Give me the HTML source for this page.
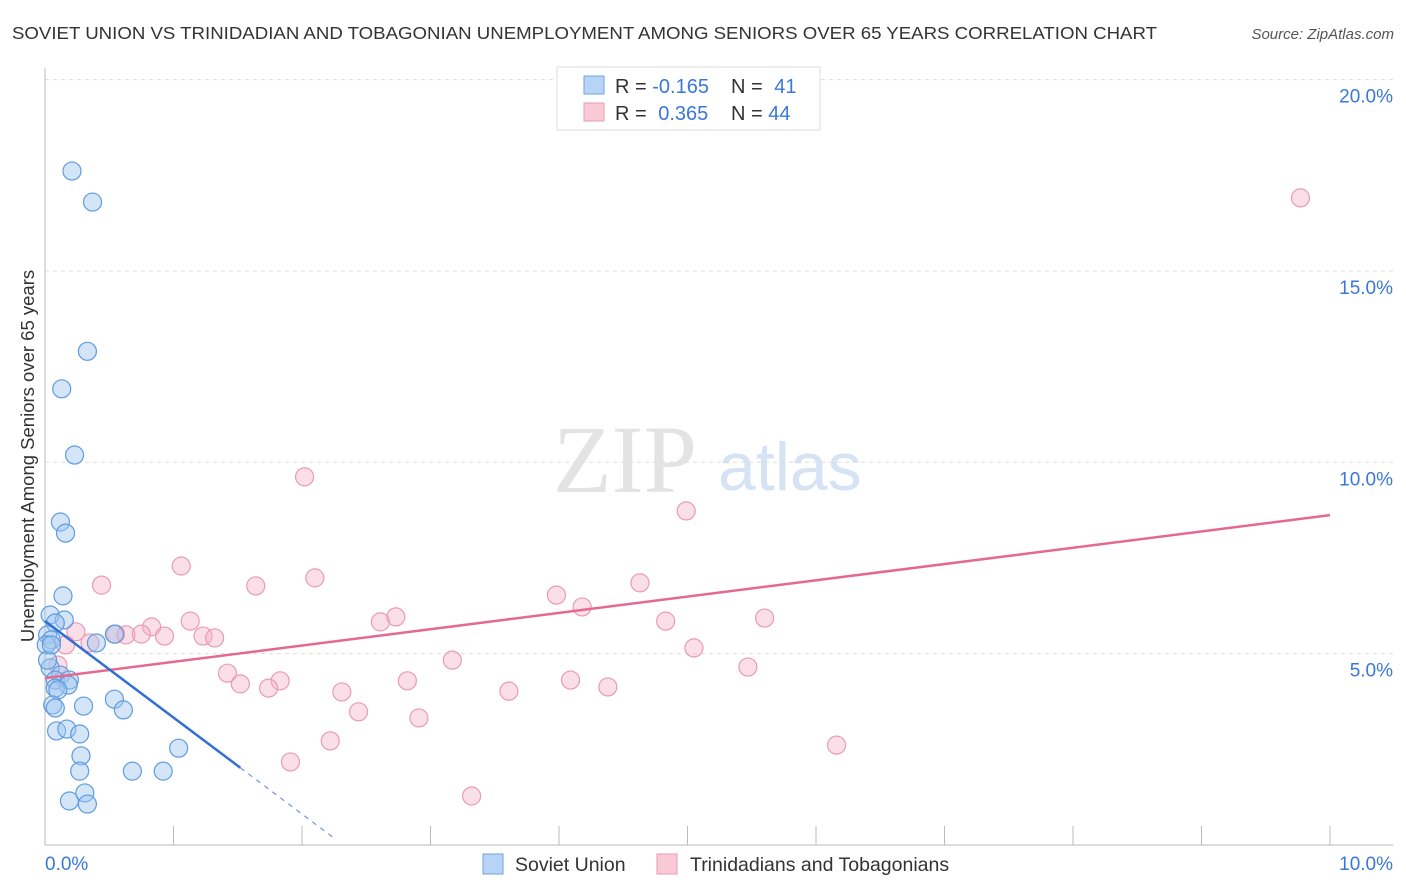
<!DOCTYPE html>
<html><head><meta charset="utf-8"><style>
body{margin:0;background:#fff;font-family:"Liberation Sans",sans-serif;}
svg{display:block}
</style></head><body>
<svg width="1406" height="892" viewBox="0 0 1406 892">
<text x="12" y="39" font-size="17.5" fill="#333" textLength="1145" lengthAdjust="spacingAndGlyphs">SOVIET UNION VS TRINIDADIAN AND TOBAGONIAN UNEMPLOYMENT AMONG SENIORS OVER 65 YEARS CORRELATION CHART</text>
<text x="1394" y="39" font-size="15" fill="#555" font-style="italic" text-anchor="end">Source: ZipAtlas.com</text>
<g>
<text x="553" y="492" font-size="96" fill="#e3e3e3" font-family="Liberation Serif,serif">ZIP</text>
<text x="718" y="490" font-size="68" fill="#d5e3f5">atlas</text>
</g>
<g id="grid"></g>
<g id="axes"></g>
<g id="pts"></g>
<g id="trends"></g>
<text transform="translate(34,456) rotate(-90)" font-size="18.5" fill="#333" text-anchor="middle">Unemployment Among Seniors over 65 years</text>
<g>
<rect x="557" y="67" width="263" height="63" fill="#fff" stroke="#ddd"/>
<rect x="584" y="76" width="20" height="18" fill="#b7d3f5" stroke="#6fa3e6"/>
<rect x="584" y="103" width="20" height="18" fill="#f9c9d8" stroke="#ec9ab5"/>
<text x="615" y="93" font-size="20" fill="#333">R = <tspan fill="#3a78d8">-0.165</tspan></text>
<text x="731" y="93" font-size="20" fill="#333">N = <tspan fill="#3a78d8" dx="6">41</tspan></text>
<text x="615" y="120" font-size="20" fill="#333">R = <tspan fill="#3a78d8" dx="6">0.365</tspan></text>
<text x="731" y="120" font-size="20" fill="#333">N = <tspan fill="#3a78d8">44</tspan></text>
</g>
<g>
<rect x="483" y="854" width="20" height="20" fill="#b7d3f5" stroke="#6fa3e6"/>
<text x="515" y="871" font-size="19.5" fill="#333">Soviet Union</text>
<rect x="657" y="854" width="20" height="20" fill="#f9c9d8" stroke="#ec9ab5"/>
<text x="690" y="871" font-size="19.5" fill="#333">Trinidadians and Tobagonians</text>
</g>
</svg>
<script>
const yTicks=[5,10,15,20];
const xTickLabels=["0.0%","10.0%"];
const sovietX=[0.21,0.37,0.33,0.13,0.23,0.12,0.16,0.14,0.04,0.15,0.08,0.02,0.05,0.01,0.54,0.40,0.04,0.12,0.08,0.19,0.18,0.08,0.10,0.06,0.08,0.30,0.54,0.61,0.09,0.17,0.27,0.28,1.04,0.27,0.68,0.92,0.19,0.31,0.33,0.02,0.05];
const sovietY=[17.61,16.80,12.90,11.92,10.19,8.44,8.15,6.51,6.01,5.88,5.80,5.49,5.36,5.23,5.51,5.28,4.63,4.44,4.31,4.31,4.18,4.10,4.05,3.66,3.58,3.63,3.81,3.53,2.98,3.03,2.90,2.33,2.53,1.93,1.93,1.93,1.15,1.36,1.07,4.83,5.23];
const trinX=[9.77,2.02,4.99,1.06,0.44,2.10,1.64,3.98,4.63,4.18,2.73,2.61,5.60,4.83,1.13,0.24,0.83,0.55,0.63,0.75,0.93,1.23,1.32,0.35,0.16,5.05,3.17,1.42,1.83,1.52,1.74,2.82,4.09,2.31,3.61,4.38,5.47,2.44,2.91,2.22,6.16,1.91,3.32,0.10];
const trinY=[16.91,9.62,8.73,7.29,6.79,6.98,6.77,6.53,6.85,6.22,5.96,5.83,5.93,5.85,5.85,5.57,5.70,5.51,5.49,5.51,5.46,5.46,5.41,5.28,5.23,5.15,4.83,4.49,4.29,4.21,4.10,4.29,4.31,4.00,4.02,4.13,4.65,3.48,3.32,2.72,2.61,2.17,1.28,4.70];
const sovietTrend=[5.85,-2.52,1.52,2.24]; // intercept, slope, solid end, dashed end
const trinTrend=[4.36,0.426,10];
const X=v=>45+v*128.5, Y=v=>845-v*38.27;
const NS="http://www.w3.org/2000/svg";
function mk(t,a,p){const e=document.createElementNS(NS,t);for(const k in a)e.setAttribute(k,a[k]);p.appendChild(e);return e;}
const grid=document.getElementById('grid'),axes=document.getElementById('axes'),pts=document.getElementById('pts'),tr=document.getElementById('trends');
yTicks.forEach(v=>{
 const l=mk('line',{x1:45,x2:1393,y1:Y(v),y2:Y(v),stroke:'#ddd','stroke-dasharray':'4,4'},grid);
 
 
 const t=mk('text',{x:1393,y:Y(v)+23,'font-size':19,fill:'#3a78d8','text-anchor':'end'},axes);
 t.textContent=v.toFixed(1)+'%';
 
 
});
mk('line',{x1:45,x2:45,y1:68,y2:845,stroke:'#bbb'},axes);
mk('line',{x1:45,x2:1393,y1:845,y2:845,stroke:'#bbb'},axes);
for(let i=0;i<=10;i++){const tk=mk('line',{x1:X(i),x2:X(i),y1:826,y2:845,stroke:'#bbb'},axes);
 
 }
const xl0=mk('text',{x:45,y:870,'font-size':19,fill:'#3a78d8'},axes);xl0.textContent=xTickLabels[0];


const xl1=mk('text',{x:1393,y:870,'font-size':19,fill:'#3a78d8','text-anchor':'end'},axes);xl1.textContent=xTickLabels[1];


trinX.forEach((x,i)=>{const c=mk('circle',{cx:X(x),cy:Y(trinY[i]),r:9,fill:'rgba(246,178,200,0.42)',stroke:'#ea9ab4','stroke-width':1.2},pts);
 
 });
sovietX.forEach((x,i)=>{const c=mk('circle',{cx:X(x),cy:Y(sovietY[i]),r:9,fill:'rgba(160,198,240,0.45)',stroke:'#5e9be0','stroke-width':1.2},pts);
 
 });
const f=(t,x)=>t[0]+t[1]*x;
const pl=mk('line',{x1:X(0),y1:Y(f(trinTrend,0)),x2:X(trinTrend[2]),y2:Y(f(trinTrend,trinTrend[2])),stroke:'#e5698f','stroke-width':2.5},tr);


const bl=mk('line',{x1:X(0),y1:Y(f(sovietTrend,0)),x2:X(sovietTrend[2]),y2:Y(f(sovietTrend,sovietTrend[2])),stroke:'#2f6fd6','stroke-width':2.5},tr);


const bd=mk('line',{x1:X(sovietTrend[2]),y1:Y(f(sovietTrend,sovietTrend[2])),x2:X(sovietTrend[3]),y2:Y(f(sovietTrend,sovietTrend[3])),stroke:'#7a9ad8','stroke-width':1.2,'stroke-dasharray':'5,5'},tr);


</script>
</body></html>
